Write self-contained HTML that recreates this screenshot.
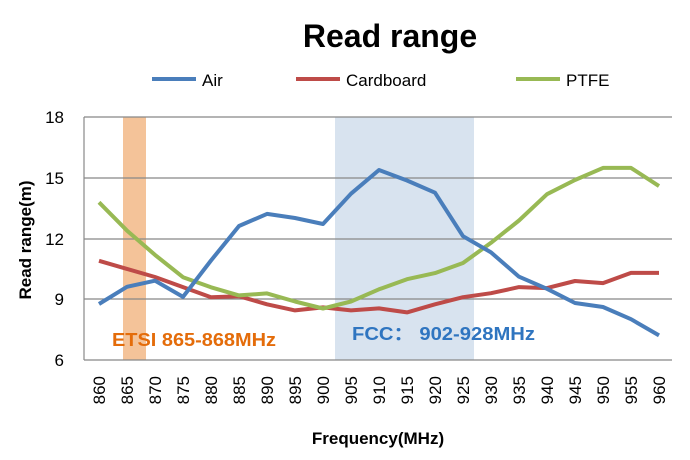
<!DOCTYPE html><html><head><style>body{margin:0;background:#fff}svg{display:block;font-family:"Liberation Sans",sans-serif}</style></head><body>
<svg width="690" height="460" xmlns="http://www.w3.org/2000/svg">
<text x="390" y="47" text-anchor="middle" font-size="32" font-weight="bold">Read range</text>
<g font-size="17">
<line x1="152" y1="79" x2="196" y2="79" stroke="#4a7ebb" stroke-width="4"/><text x="202" y="86">Air</text>
<line x1="296" y1="79" x2="340" y2="79" stroke="#be4b48" stroke-width="4"/><text x="346" y="86">Cardboard</text>
<line x1="516" y1="79" x2="560" y2="79" stroke="#98b954" stroke-width="4"/><text x="566" y="86">PTFE</text>
</g>
<rect x="123" y="117" width="23" height="243" fill="#f4c399"/>
<rect x="335" y="117" width="139" height="243" fill="#d8e3ef"/>
<g stroke="#888" stroke-width="1.2">
<line x1="84" y1="117" x2="672" y2="117"/><line x1="84" y1="178" x2="672" y2="178"/><line x1="84" y1="239" x2="672" y2="239"/><line x1="84" y1="299" x2="672" y2="299"/><line x1="84" y1="360" x2="672" y2="360"/><line x1="84" y1="117" x2="84" y2="360"/>
</g>
<g font-size="17" text-anchor="end"><text x="64" y="123">18</text><text x="64" y="184">15</text><text x="64" y="245">12</text><text x="64" y="305">9</text><text x="64" y="366">6</text></g>
<g fill="none" stroke-width="4" stroke-linejoin="round">
<polyline stroke="#be4b48" points="99,260.8 127,268.9 155,277.0 183,287.1 211,297.2 239,296.2 267,304.3 295,310.4 323,307.4 351,310.4 379,308.4 407,312.4 435,304.3 463,297.2 491,293.2 519,287.1 547,288.1 575,281.0 603,283.1 631,272.9 659,272.9"/>
<polyline stroke="#98b954" points="99,202.3 127,230.6 155,254.9 183,277.2 211,287.3 239,295.4 267,293.4 295,301.5 323,308.5 351,301.5 379,289.3 407,279.2 435,273.1 463,263.0 491,242.8 519,220.5 547,194.2 575,180.0 603,167.9 631,167.9 659,186.1"/>
<polyline stroke="#4a7ebb" points="99,304 127,286.8 155,280.7 183,296.9 211,260.5 239,226.0 267,213.9 295,218.0 323,224.0 351,193.7 379,170 407,180.5 435,192.7 463,236.2 491,252.4 519,276.7 547,288.8 575,303.0 603,307.0 631,319.2 659,335.4"/>
</g>
<text x="112" y="346" font-size="18" font-weight="bold" fill="#e46c0a" textLength="164" lengthAdjust="spacingAndGlyphs">ETSI 865-868MHz</text>
<text x="352" y="340" font-size="18" font-weight="bold" fill="#2f75c0" textLength="183" lengthAdjust="spacingAndGlyphs">FCC：  902-928MHz</text>
<g font-size="17" text-anchor="end">
<text transform="translate(105,376) rotate(-90)">860</text><text transform="translate(133,376) rotate(-90)">865</text><text transform="translate(161,376) rotate(-90)">870</text><text transform="translate(189,376) rotate(-90)">875</text><text transform="translate(217,376) rotate(-90)">880</text><text transform="translate(245,376) rotate(-90)">885</text><text transform="translate(273,376) rotate(-90)">890</text><text transform="translate(301,376) rotate(-90)">895</text><text transform="translate(329,376) rotate(-90)">900</text><text transform="translate(357,376) rotate(-90)">905</text><text transform="translate(385,376) rotate(-90)">910</text><text transform="translate(413,376) rotate(-90)">915</text><text transform="translate(441,376) rotate(-90)">920</text><text transform="translate(469,376) rotate(-90)">925</text><text transform="translate(497,376) rotate(-90)">930</text><text transform="translate(525,376) rotate(-90)">935</text><text transform="translate(553,376) rotate(-90)">940</text><text transform="translate(581,376) rotate(-90)">945</text><text transform="translate(609,376) rotate(-90)">950</text><text transform="translate(637,376) rotate(-90)">955</text><text transform="translate(665,376) rotate(-90)">960</text>
</g>
<text x="378" y="444" text-anchor="middle" font-size="17" font-weight="bold">Frequency(MHz)</text>
<text transform="translate(31,240) rotate(-90)" text-anchor="middle" font-size="17" font-weight="bold">Read range(m)</text>
</svg></body></html>
